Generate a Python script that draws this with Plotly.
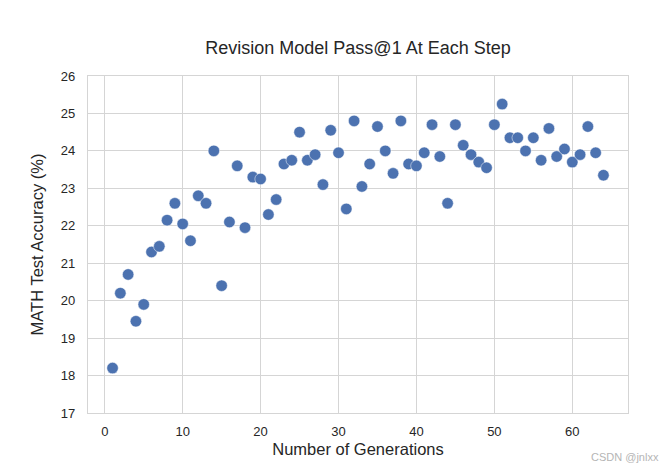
import plotly.graph_objects as go

generations = list(range(1, 65))
accuracy = [
    18.2, 20.2, 20.7, 19.45, 19.9, 21.3, 21.45, 22.15, 22.6, 22.05,
    21.6, 22.8, 22.6, 24.0, 20.4, 22.1, 23.6, 21.95, 23.3, 23.25,
    22.3, 22.7, 23.65, 23.75, 24.5, 23.75, 23.9, 23.1, 24.55, 23.95,
    22.45, 24.8, 23.05, 23.65, 24.65, 24.0, 23.4, 24.8, 23.65, 23.6,
    23.95, 24.7, 23.85, 22.6, 24.7, 24.15, 23.9, 23.7, 23.55, 24.7,
    25.25, 24.35, 24.35, 24.0, 24.35, 23.75, 24.6, 23.85, 24.05, 23.7,
    23.9, 24.65, 23.95, 23.35,
]
x_ticks = [0, 10, 20, 30, 40, 50, 60]
y_ticks = [17, 18, 19, 20, 21, 22, 23, 24, 25, 26]

font = "Liberation Sans, Arial, sans-serif"
W, H = 662, 462
L, R, T, B = 80, 42, 68, 57
pw, ph = W - L - R, H - T - B

fig = go.Figure(go.Scatter(
    x=generations, y=accuracy, mode="markers",
    marker=dict(size=11.5, color="#4c72b0", line=dict(width=0.5, color="white")),
))
fig.update_layout(
    width=W, height=H,
    margin=dict(l=L, r=R, t=T, b=B),
    paper_bgcolor="white", plot_bgcolor="white",
    font=dict(family=font, color="#262626", size=13),
    title=dict(text="Revision Model Pass@1 At Each Step", x=(L + pw / 2) / W, xanchor="center",
               y=1 - 40 / H, yanchor="middle", font=dict(size=18, color="#262626")),
    showlegend=False,
    xaxis=dict(range=[-2.15, 67.15], tickvals=x_ticks, showgrid=True, gridcolor="#d5d5d5",
               gridwidth=1, zeroline=False, showline=True, mirror=True, linecolor="#d5d5d5",
               linewidth=1.2, ticks="", ticklabelstandoff=6, automargin=False,
               tickfont=dict(size=13),
               title=dict(text="Number of Generations", font=dict(size=16.5), standoff=5)),
    yaxis=dict(range=[17, 26], tickvals=y_ticks, showgrid=True, gridcolor="#d5d5d5",
               gridwidth=1, zeroline=False, showline=True, mirror=True, linecolor="#d5d5d5",
               linewidth=1.2, ticks="", ticklabelstandoff=9, automargin=False,
               tickfont=dict(size=13),
               title=dict(text="MATH Test Accuracy (%)", font=dict(size=16.5), standoff=13)),
    annotations=[dict(text="CSDN @jnlxx", x=(653 - L) / pw, y=-44 / ph, xref="paper", yref="paper",
                      showarrow=False, font=dict(size=11, color="#b5b5b5"),
                      xanchor="right", yanchor="middle")],
)
fig.write_html("out.html")
